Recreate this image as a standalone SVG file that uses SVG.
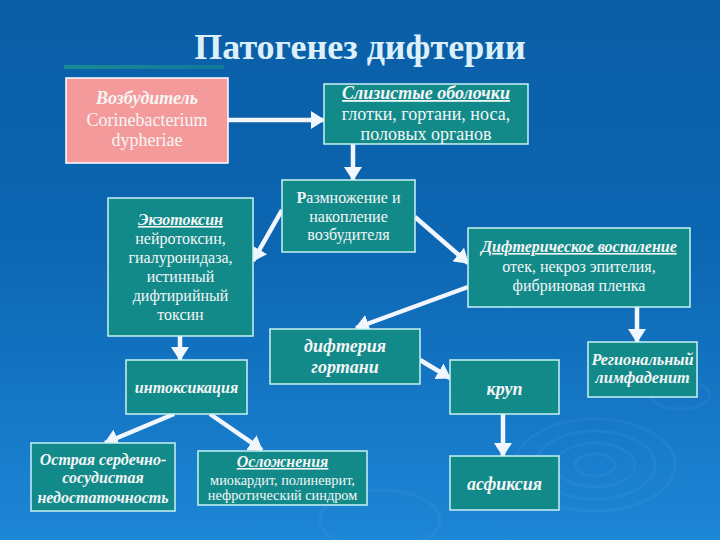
<svg xmlns="http://www.w3.org/2000/svg" width="720" height="540" viewBox="0 0 720 540">
<defs>
<linearGradient id="bg" x1="0" y1="0" x2="0" y2="1">
<stop offset="0" stop-color="#0a5ea6"/>
<stop offset="0.45" stop-color="#0c66b2"/>
<stop offset="1" stop-color="#1d86d6"/>
</linearGradient>
<linearGradient id="tl" x1="0" y1="0" x2="1" y2="0">
<stop offset="0" stop-color="#1a9090" stop-opacity="0.9"/>
<stop offset="1" stop-color="#1a9090" stop-opacity="0.5"/>
</linearGradient>
<marker id="ah" markerUnits="userSpaceOnUse" markerWidth="14" markerHeight="18" viewBox="0 0 14 18" refX="13" refY="9" orient="auto">
<path d="M0,0 L14,9 L0,18 Z" fill="#f2f6ff"/>
</marker>
<style>
.box{fill:#138a8a;stroke:#c8f2f2;stroke-width:1.5}
.pink{fill:#f59a9a;stroke:#ffffff;stroke-width:1.5}
text{font-family:"Liberation Serif","Times New Roman",serif;fill:#f4f6f6;text-anchor:middle}
.t{font-size:16px}
.l{font-size:18px}
.s{font-size:14.3px}
.h{font-weight:bold;font-style:italic}
.u{text-decoration:underline}
.a{stroke:#f2f6ff;stroke-width:4.5;fill:none;marker-end:url(#ah)}
.rip{fill:none;stroke:#ffffff;stroke-opacity:0.045;stroke-width:3}
</style>
</defs>
<rect width="720" height="540" fill="url(#bg)"/>
<g id="ripples">
<ellipse class="rip" cx="595" cy="465" rx="80" ry="46"/>
<ellipse class="rip" cx="595" cy="465" rx="60" ry="34"/>
<ellipse class="rip" cx="595" cy="465" rx="40" ry="22"/>
<ellipse class="rip" cx="595" cy="465" rx="20" ry="11"/>
<ellipse class="rip" cx="680" cy="395" rx="30" ry="14"/>
<ellipse class="rip" cx="380" cy="520" rx="60" ry="30"/>
</g>
<rect x="64" y="65" width="160" height="4" fill="url(#tl)"/>
<text x="360" y="59" style="font-size:36px;font-weight:bold;fill:#dcf0fa">Патогенез дифтерии</text>

<g id="connectors">
<line class="a" x1="228" y1="120" x2="324" y2="120"/>
<line class="a" x1="353" y1="144" x2="353" y2="180"/>
<line class="a" x1="282" y1="210" x2="253" y2="261"/>
<line class="a" x1="415" y1="217" x2="468" y2="263"/>
<line class="a" x1="468" y1="287" x2="356" y2="328"/>
<line class="a" x1="180" y1="336" x2="180" y2="360"/>
<line class="a" x1="637" y1="307" x2="637" y2="342"/>
<line class="a" x1="420" y1="360" x2="450" y2="378"/>
<line class="a" x1="174" y1="414" x2="105" y2="443"/>
<line class="a" x1="210" y1="414" x2="262" y2="450"/>
<line class="a" x1="503" y1="414" x2="503" y2="456"/>
</g>

<g id="vozbuditel">
<rect class="pink" x="66" y="78" width="162" height="85"/>
<text class="l" x="147" y="104"><tspan class="h">Возбудитель</tspan></text>
<text class="l" x="147" y="126">Corinebacterium</text>
<text class="l" x="147" y="146">dypheriae</text>
</g>

<g id="slizistye">
<rect class="box" x="324" y="84" width="204" height="60"/>
<text class="l h u" x="426" y="99">Слизистые оболочки</text>
<text class="l" x="426" y="120">глотки, гортани, носа,</text>
<text class="l" x="426" y="140">половых органов</text>
</g>

<g id="razmnozhenie">
<rect class="box" x="282" y="180" width="133" height="72"/>
<text class="t" x="348.5" y="203"><tspan font-weight="bold">Р</tspan>азмножение и</text>
<text class="t" x="348.5" y="222">накопление</text>
<text class="t" x="348.5" y="240">возбудителя</text>
</g>

<g id="ekzotoksin">
<rect class="box" x="108" y="198" width="145" height="138"/>
<text class="t h u" x="180.5" y="225">Экзотоксин</text>
<text class="t" x="180.5" y="244">нейротоксин,</text>
<text class="t" x="180.5" y="263">гиалуронидаза,</text>
<text class="t" x="180.5" y="282">истинный</text>
<text class="t" x="180.5" y="301">дифтирийный</text>
<text class="t" x="180.5" y="320">токсин</text>
</g>

<g id="vospalenie">
<rect class="box" x="468" y="228" width="222" height="79"/>
<text class="t h u" x="579" y="252">Дифтерическое воспаление</text>
<text class="t" x="579" y="272">отек, некроз эпителия,</text>
<text class="t" x="579" y="291">фибриновая пленка</text>
</g>

<g id="intoksikaciya">
<rect class="box" x="126" y="360" width="121" height="54"/>
<text class="h" x="186.5" y="393" style="font-size:16px">интоксикация</text>
</g>

<g id="difteriya-gortani">
<rect class="box" x="270" y="329" width="150" height="55"/>
<text class="h" x="345" y="352" style="font-size:18px">дифтерия</text>
<text class="h" x="345" y="373" style="font-size:18px">гортани</text>
</g>

<g id="krup">
<rect class="box" x="450" y="360" width="109" height="54"/>
<text class="h" x="504.5" y="395" style="font-size:18px">круп</text>
</g>

<g id="limfadenit">
<rect class="box" x="588" y="342" width="109" height="55"/>
<text class="h" x="642.5" y="365" style="font-size:16.3px">Региональный</text>
<text class="h" x="642.5" y="383" style="font-size:16.3px">лимфаденит</text>
</g>

<g id="serdechnaya">
<rect class="box" x="31" y="443" width="144" height="68"/>
<text class="h" x="103" y="465" style="font-size:16px">Острая сердечно-</text>
<text class="h" x="103" y="483" style="font-size:16px">сосудистая</text>
<text class="h" x="103" y="503" style="font-size:16px">недостаточность</text>
</g>

<g id="oslozhneniya">
<rect class="box" x="198" y="451" width="169" height="54"/>
<text class="h u" x="282.5" y="467" style="font-size:16px">Осложнения</text>
<text class="s" x="282.5" y="485">миокардит, полиневрит,</text>
<text class="s" x="282.5" y="500">нефротический синдром</text>
</g>

<g id="asfiksiya">
<rect class="box" x="450" y="456" width="109" height="54"/>
<text class="h" x="504.5" y="490" style="font-size:18px">асфиксия</text>
</g>
</svg>
